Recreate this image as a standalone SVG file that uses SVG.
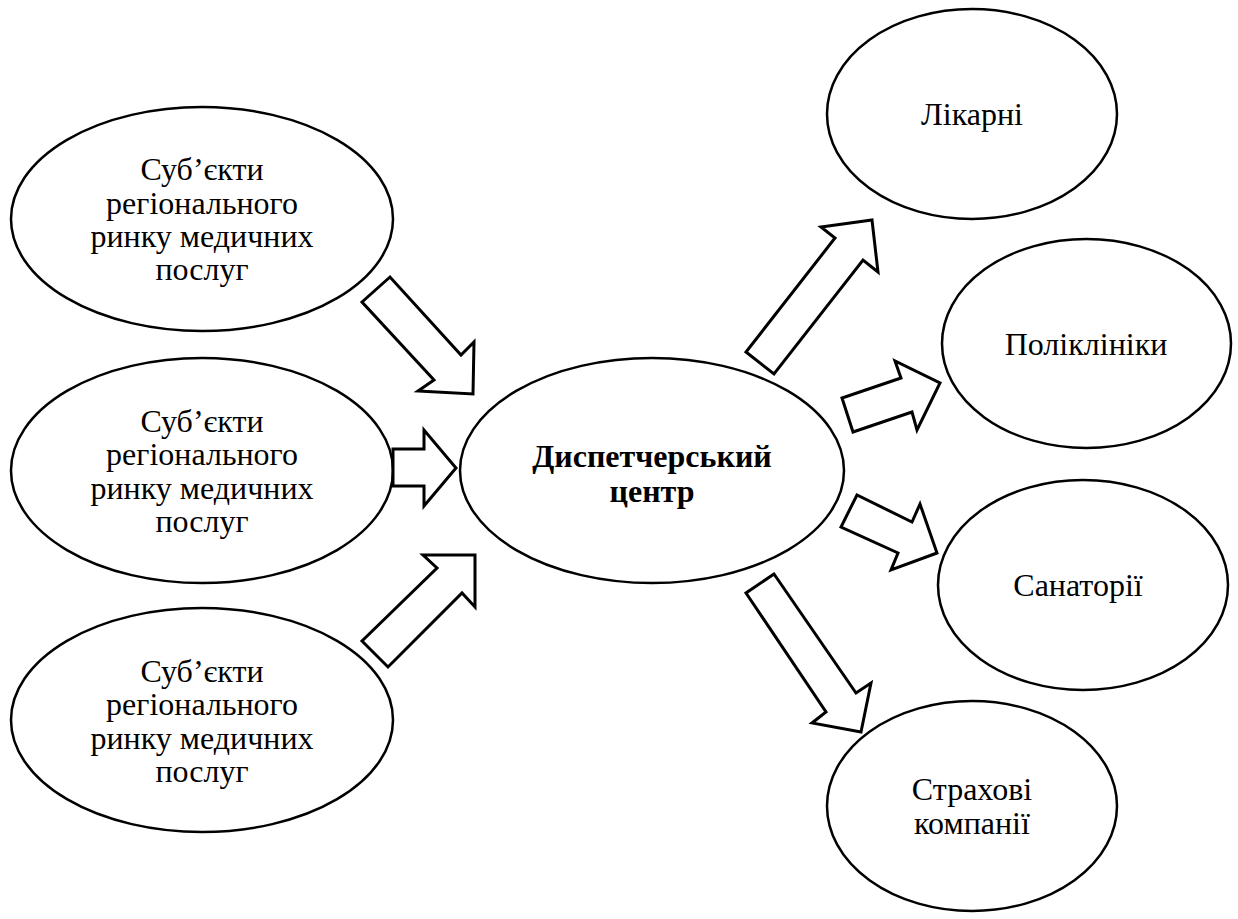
<svg xmlns="http://www.w3.org/2000/svg" width="1238" height="919" viewBox="0 0 1238 919">
  <style>
    .node { fill: #ffffff; stroke: #000000; stroke-width: 2.5; }
    .arrow { fill: #ffffff; stroke: #000000; stroke-width: 3; stroke-linejoin: miter; }
    text { font-family: 'Liberation Serif', 'Times New Roman', 'DejaVu Serif', serif; font-size: 32px; fill: #000000; text-anchor: middle; }
    .bold { font-weight: bold; }
  </style>
  <rect width="1238" height="919" fill="#ffffff"/>

  <!-- Source nodes (left) -->
  <g id="subject-1">
    <ellipse class="node" cx="202" cy="219" rx="191" ry="112"/>
    <text x="202" y="180">Суб’єкти</text>
    <text x="202" y="214">регіонального</text>
    <text x="202" y="247">ринку медичних</text>
    <text x="202" y="280">послуг</text>
  </g>
  <g id="subject-2">
    <ellipse class="node" cx="202" cy="470.5" rx="191" ry="112.5"/>
    <text x="202" y="432">Суб’єкти</text>
    <text x="202" y="465">регіонального</text>
    <text x="202" y="499">ринку медичних</text>
    <text x="202" y="532">послуг</text>
  </g>
  <g id="subject-3">
    <ellipse class="node" cx="202" cy="720" rx="191" ry="112"/>
    <text x="202" y="682">Суб’єкти</text>
    <text x="202" y="715">регіонального</text>
    <text x="202" y="749">ринку медичних</text>
    <text x="202" y="782">послуг</text>
  </g>

  <!-- Central node -->
  <g id="dispatch-center">
    <ellipse class="node" cx="652" cy="470.5" rx="192" ry="112.5"/>
    <text class="bold" x="652" y="467">Диспетчерський</text>
    <text class="bold" x="652" y="502">центр</text>
  </g>

  <!-- Target nodes (right) -->
  <g id="hospitals">
    <ellipse class="node" cx="972" cy="114" rx="145" ry="105"/>
    <text x="972" y="125">Лікарні</text>
  </g>
  <g id="polyclinics">
    <ellipse class="node" cx="1086.5" cy="343.5" rx="144.5" ry="104.5"/>
    <text x="1086" y="355">Поліклініки</text>
  </g>
  <g id="sanatoriums">
    <ellipse class="node" cx="1083" cy="585" rx="145" ry="105"/>
    <text x="1078" y="596">Санаторії</text>
  </g>
  <g id="insurers">
    <ellipse class="node" cx="972" cy="806" rx="145" ry="105"/>
    <text x="972" y="800">Страхові</text>
    <text x="972" y="834">компанії</text>
  </g>

  <!-- Block arrows -->
  <g id="connectors">
    <polygon class="arrow" points="390,277 362,302 434,380 418,391 473,394 474,342 461,355"/>
    <polygon class="arrow" points="393,449 424,449 424,430 456,468 424,506 424,486 393,486"/>
    <polygon class="arrow" points="362,641 388,667 462,593 475,607 475,555 423,555 437,568"/>
    <polygon class="arrow" points="746,352 774,374 863,260 878,272 872,220 821,227 835,238"/>
    <polygon class="arrow" points="842,398 853,432 912,412 917,430 940,383 895,361 901,378"/>
    <polygon class="arrow" points="857,495 841,527 898,553 891,570 937,553 920,504 912,522"/>
    <polygon class="arrow" points="774,574 746,593 826,712 812,723 861,732 871,683 856,693"/>
  </g>
</svg>
